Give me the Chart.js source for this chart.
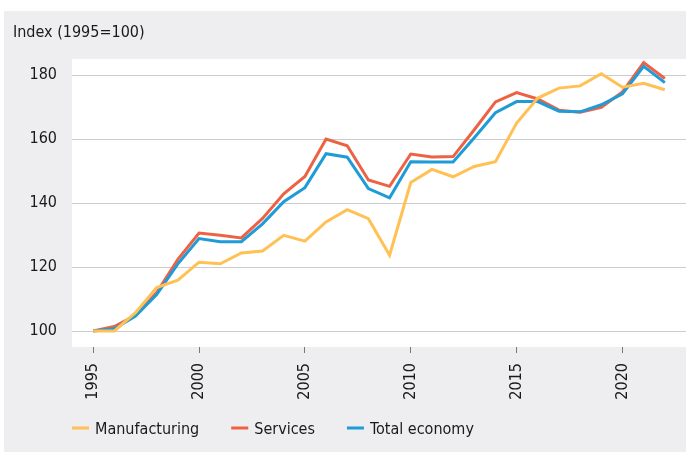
<!DOCTYPE html>
<html>
<head>
<meta charset="utf-8">
<script src="https://cdn.jsdelivr.net/npm/chart.js@4"></script>
<style>
  body { margin: 0; background: #fff; }
  #wrap { width: 686px; height: 452px; }
</style>
</head>
<body>
<div id="wrap"><canvas id="myChart" width="686" height="452"></canvas></div>
<script>
// data
const years = [1995, 1996, 1997, 1998, 1999, 2000, 2001, 2002, 2003, 2004, 2005, 2006, 2007, 2008,
  2009, 2010, 2011, 2012, 2013, 2014, 2015, 2016, 2017, 2018, 2019, 2020, 2021, 2022];
const manufacturing = [100, 100, 105.7, 113.6, 115.9, 121.5, 121, 124.4, 125, 129.9, 128.1, 134.1, 137.9, 135.1,
  123.7, 146.4, 150.5, 148.2, 151.4, 152.9, 165, 172.8, 175.9, 176.6, 180.4, 176.2, 177.4, 175.4];
const services = [100, 101.4, 104.9, 112, 122.4, 130.6, 129.9, 129.1, 135.2, 142.9, 148.3, 160, 157.9, 147.2,
  145.2, 155.3, 154.4, 154.5, 162.9, 171.6, 174.5, 172.5, 169, 168.4, 169.9, 174.7, 183.9, 178.9];
const totalEconomy = [100, 100.7, 104.7, 111.4, 121, 128.9, 127.9, 127.9, 133.5, 140.4, 144.8, 155.4, 154.3, 144.5,
  141.6, 152.9, 152.8, 152.8, 160.4, 168.2, 171.7, 171.7, 168.7, 168.5, 170.7, 174.1, 182.7, 177.6];
const xTicks = [1995, 2000, 2005, 2010, 2015, 2020];
const yTicks = [100, 120, 140, 160, 180];
const yTitle = 'Index (1995=100)';

const FONT = "'DejaVu Sans Condensed', 'Liberation Sans Narrow', sans-serif";

function pts(arr) {
  return years.map((y, i) => ({ x: y, y: arr[i] }));
}

// gray panel, white plot area, title and legend
const decor = {
  id: 'decor',
  beforeDraw(chart) {
    const c = chart.ctx, a = chart.chartArea;
    c.save();
    c.fillStyle = '#eeeef0';
    c.fillRect(4, 11, 682, 441);
    c.fillStyle = '#ffffff';
    c.fillRect(a.left, a.top, a.right - a.left, a.bottom - a.top);
    c.restore();
  },
  afterDraw(chart) {
    const c = chart.ctx;
    c.save();
    c.font = '16px ' + FONT;
    c.fillStyle = '#1a1a1a';
    c.textBaseline = 'middle';
    c.fillText(yTitle, 13, 33);

    // legend
    let x = 72;
    const y = 429;
    chart.data.datasets.forEach(ds => {
      c.strokeStyle = ds.borderColor;
      c.lineWidth = 3;
      c.beginPath();
      c.moveTo(x, y - 1);
      c.lineTo(x + 17, y - 1);
      c.stroke();
      c.fillStyle = '#1a1a1a';
      c.fillText(ds.label, x + 23, y + 1);
      x += 23 + c.measureText(ds.label).width + 32;
    });
    c.restore();
  }
};

const ctx = document.getElementById('myChart').getContext('2d');

var myChart = new Chart(ctx, {
  type: 'line',
  data: {
    datasets: [
      { label: 'Manufacturing', data: pts(manufacturing), borderColor: '#ffc154', order: 0 },
      { label: 'Services', data: pts(services), borderColor: '#ee6244', order: 2 },
      { label: 'Total economy', data: pts(totalEconomy), borderColor: '#1f9bd7', order: 1 }
    ]
  },
  options: {
    responsive: false,
    animation: false,
    layout: { padding: { top: 59, left: 0, right: 0, bottom: 0 } },
    elements: {
      line: { borderWidth: 3, tension: 0 },
      point: { radius: 0 }
    },
    plugins: {
      legend: { display: false },
      tooltip: { enabled: false }
    },
    scales: {
      x: {
        type: 'linear',
        min: 1994,
        max: 2023,
        afterBuildTicks: s => { s.ticks = xTicks.map(v => ({ value: v })); },
        afterFit: s => { s.height = 105; },
        border: { display: false },
        grid: { drawOnChartArea: false, drawTicks: true, tickLength: 6, color: '#777' },
        ticks: {
          autoSkip: false,
          minRotation: 90,
          maxRotation: 90,
          padding: 10,
          color: '#1a1a1a',
          font: { family: FONT, size: 16 },
          callback: v => String(v)
        }
      },
      y: {
        min: 95,
        max: 185,
        afterBuildTicks: s => { s.ticks = yTicks.map(v => ({ value: v })); },
        afterFit: s => { s.width = 72; },
        border: { display: false },
        grid: { color: '#cccccc', lineWidth: 1, drawTicks: false },
        ticks: {
          padding: 15,
          color: '#1a1a1a',
          font: { family: FONT, size: 16 }
        }
      }
    }
  },
  plugins: [decor]
});
</script>
</body>
</html>
